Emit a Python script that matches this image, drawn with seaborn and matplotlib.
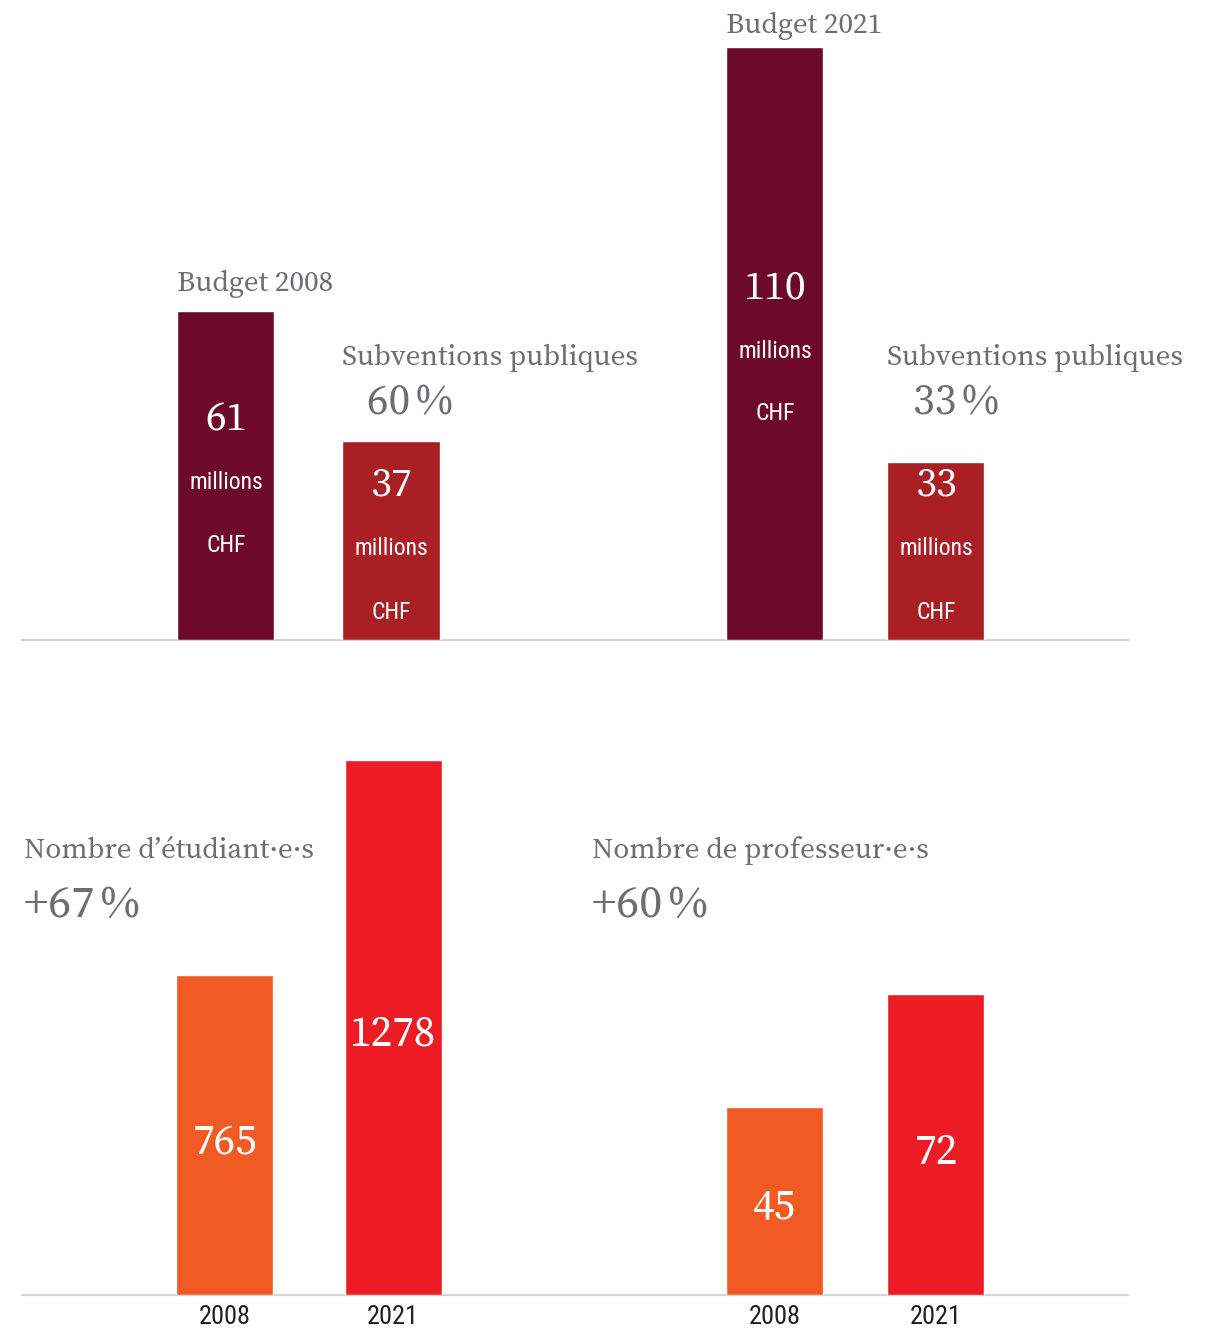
import matplotlib
matplotlib.use("Agg")
import matplotlib.pyplot as plt
import seaborn as sns
import pandas as pd

# ---- data ----
groups = ["Budget", "Subventions"]
budget_total = [61, 110]          # millions CHF (2008, 2021)
subsidies = [37, 33]              # millions CHF (2008, 2021)
subsidy_share = [60, 33]          # % of budget
years = ["2008", "2021"]
students = [765, 1278]
professors = [45, 72]
students_growth = 67
professors_growth = 60

# ---- style ----
sns.set_theme(style="white")
SERIF = ["Source Serif 4", "Noto Serif", "DejaVu Serif"]
COND = ["Roboto Condensed", "Fira Sans Condensed", "Sofia Sans Condensed", "DejaVu Sans"]
GREY = "#6d6e71"
C_BUDGET = "#6d0a2b"
C_SUBV = "#a91f24"
C_2008 = "#f15a22"
C_2021 = "#ed1c24"
LINE = "#d4d4d6"
TITLE_FS = 21
PCT_FS = 31
NUM_FS = 30
COND_FS = 17

W, H = 1219, 1328
fig = plt.figure(figsize=(W / 100, H / 100), dpi=100)


def add_ax(x0, x1, ybot, ytop):
    ax = fig.add_axes([x0 / W, 1 - ybot / H, (x1 - x0) / W, (ybot - ytop) / H])
    ax.patch.set_visible(False)
    return ax


def bars(ax, cats, vals, colors, width, xlim, ylim, ticks=False):
    df = pd.DataFrame({"cat": cats, "val": vals})
    sns.barplot(data=df, x="cat", y="val", hue="cat", palette=colors, width=width,
                saturation=1, legend=False, ax=ax, zorder=3)
    ax.axhline(0, color=LINE, lw=1.6, zorder=1, clip_on=False)
    ax.set_xlim(*xlim)
    ax.set_ylim(*ylim)
    ax.set_xlabel("")
    ax.set_ylabel("")
    ax.set_yticks([])
    for s in ax.spines.values():
        s.set_visible(False)
    ax.tick_params(axis="x", length=0, pad=7)
    if ticks:
        for lab in ax.get_xticklabels():
            lab.set_family(COND)
            lab.set_fontsize(19)
            lab.set_color("#231f20")
    else:
        ax.set_xticklabels([])


# ---- top panel: budgets ----
TOP_YLIM = (0, 115)
axL = add_ax(22, 575, 640, 20)
wL = 97 / 165
bars(axL, [f"{g} {years[0]}" for g in groups], [budget_total[0], subsidies[0]],
     [C_BUDGET, C_SUBV], wL, (-1.236, 2.115), TOP_YLIM)
axR = add_ax(575, 1128, 640, 20)
wR = 97 / 161
bars(axR, [f"{g} {years[1]}" for g in groups], [budget_total[1], subsidies[1]],
     [C_BUDGET, C_SUBV], wR, (-1.242, 2.193), TOP_YLIM)


def inner(ax, x, ys, val):
    ax.text(x, ys[0], f"{val}", color="white", family=SERIF, fontsize=NUM_FS,
            ha="center", va="center_baseline", zorder=5)
    ax.text(x, ys[1], "millions", color="white", family=COND, fontsize=COND_FS,
            ha="center", va="center_baseline", zorder=5)
    ax.text(x, ys[2], "CHF", color="white", family=COND, fontsize=COND_FS,
            ha="center", va="center_baseline", zorder=5)


for ax, w, i, ytitle, yin_b, pct_dx in [
    (axL, wL, 0, 64.7, (41.7, 29.7, 18.0), -0.145),
    (axR, wR, 1, 112.6, (66.2, 54.0, 42.5), -0.143),
]:
    ax.text(-w / 2, ytitle, f"Budget {years[i]}", color=GREY, family=SERIF,
            fontsize=TITLE_FS, ha="left", va="baseline")
    inner(ax, 0, yin_b, budget_total[i])
    ax.text(1 - w / 2, 51.0, "Subventions publiques", color=GREY, family=SERIF,
            fontsize=TITLE_FS, ha="left", va="baseline")
    ax.text(1 + pct_dx, 41.9, f"{subsidy_share[i]}\u2009%", color=GREY,
            family=SERIF, fontsize=PCT_FS, ha="left", va="baseline")
    inner(ax, 1, (29.5, 17.4, 5.6), subsidies[i])

# ---- bottom panel: students and professors ----
axS = add_ax(22, 575, 1295, 700)
wS = 97 / 168
bars(axS, years, students, [C_2008, C_2021], wS, (-1.208, 2.083), (0, 1421), ticks=True)
axP = add_ax(575, 1128, 1295, 700)
bars(axP, years, professors, [C_2008, C_2021], wR, (-1.242, 2.193), (0, 142.1), ticks=True)

axS.text(-1.196, 1044, "Nombre d\u2019étudiant\u00b7e\u00b7s", color=GREY,
         family=SERIF, fontsize=TITLE_FS, ha="left", va="baseline")
axS.text(-1.196, 903, f"+{students_growth}\u2009%", color=GREY, family=SERIF,
         fontsize=PCT_FS + 2, ha="left", va="baseline")
for i, yv in enumerate([375, 633]):
    axS.text(i, yv, f"{students[i]}", color="white", family=SERIF, fontsize=NUM_FS + 1,
             ha="center", va="center_baseline", zorder=5)

axP.text(-1.137, 104.4, "Nombre de professeur\u00b7e\u00b7s", color=GREY,
         family=SERIF, fontsize=TITLE_FS, ha="left", va="baseline")
axP.text(-1.137, 90.3, f"+{professors_growth}\u2009%", color=GREY, family=SERIF,
         fontsize=PCT_FS + 2, ha="left", va="baseline")
for i, yv in enumerate([22.0, 35.1]):
    axP.text(i, yv, f"{professors[i]}", color="white", family=SERIF, fontsize=NUM_FS + 1,
             ha="center", va="center_baseline", zorder=5)

fig.savefig("out.png", dpi=100, facecolor="white")
